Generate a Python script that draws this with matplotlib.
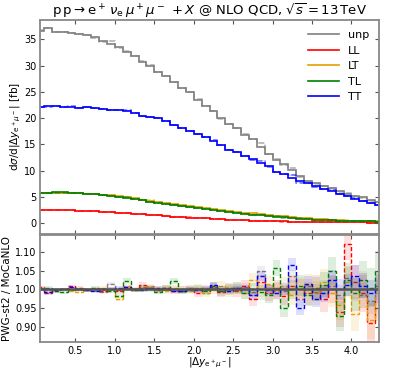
import numpy as np
import matplotlib
matplotlib.use("Agg")
import matplotlib.pyplot as plt

# bins in |dy(e+ mu-)|, width 0.1
edges = np.round(np.arange(0, 4.41, 0.1), 2)

# MoCaNLO distributions [fb]
unp = [36.7, 37.2, 36.5, 36.4, 36.3, 36.0, 35.8, 35.4, 34.8, 34.2,
       33.5, 32.6, 31.9, 30.8, 30.0, 28.9, 28.0, 26.9, 25.8, 24.9,
       23.5, 22.4, 21.3, 20.0, 18.8, 18.1, 16.8, 16.1, 14.5, 13.2,
       12.1, 11.2, 10.2, 9.0, 8.0, 7.6, 7.1, 6.6, 6.1, 5.6,
       5.2, 4.9, 4.4, 4.0]
TT = [22.1, 22.4, 22.3, 22.2, 22.2, 22.0, 22.1, 22.0, 21.8, 21.6,
      21.5, 21.4, 21.0, 20.4, 20.2, 20.0, 19.5, 18.7, 18.2, 17.6,
      17.0, 16.4, 15.6, 14.8, 14.0, 13.5, 12.8, 12.2, 11.5, 10.8,
      9.8, 9.3, 8.6, 8.1, 7.6, 7.1, 6.5, 6.1, 5.6, 5.2,
      4.6, 4.2, 3.8, 3.4]
TL = [5.75, 5.80, 5.85, 5.85, 5.80, 5.72, 5.62, 5.50, 5.36, 5.20,
      5.02, 4.82, 4.55, 4.35, 4.10, 3.85, 3.62, 3.40, 3.20, 3.00,
      2.82, 2.64, 2.45, 2.28, 2.12, 1.96, 1.80, 1.64, 1.50, 1.36,
      1.22, 1.10, 0.98, 0.88, 0.78, 0.69, 0.60, 0.53, 0.47, 0.42,
      0.38, 0.34, 0.31, 0.28]
LT = [5.65, 5.72, 5.78, 5.80, 5.78, 5.72, 5.64, 5.54, 5.42, 5.28,
      5.12, 4.94, 4.70, 4.50, 4.28, 4.04, 3.82, 3.60, 3.40, 3.20,
      3.02, 2.84, 2.66, 2.48, 2.32, 2.16, 2.00, 1.84, 1.70, 1.56,
      1.42, 1.28, 1.15, 1.03, 0.92, 0.82, 0.72, 0.64, 0.57, 0.50,
      0.45, 0.40, 0.36, 0.32]
LL = [2.55, 2.55, 2.52, 2.48, 2.43, 2.38, 2.30, 2.22, 2.13, 2.05,
      1.96, 1.86, 1.76, 1.66, 1.56, 1.46, 1.36, 1.26, 1.16, 1.07,
      0.98, 0.90, 0.82, 0.75, 0.68, 0.61, 0.55, 0.49, 0.44, 0.39,
      0.35, 0.31, 0.28, 0.25, 0.22, 0.20, 0.18, 0.17, 0.15, 0.14,
      0.13, 0.12, 0.11, 0.10]

# PWG-st2 / MoCaNLO
r_unp = [1.003, 0.998, 1.0, 1.002, 0.999, 1.0, 1.001, 0.997, 0.993, 1.015,
         0.998, 1.004, 1.0, 1.006, 1.003, 0.998, 1.004, 1.002, 0.995, 1.0,
         1.003, 1.0, 1.005, 0.996, 1.004, 0.998, 1.006, 0.992, 1.048, 1.0,
         1.004, 0.996, 1.035, 0.974, 1.008, 0.992, 1.003, 1.01, 0.985, 1.03,
         1.0, 0.985, 0.97, 1.01]
r_TT = [1.0, 0.992, 0.998, 1.0, 1.006, 1.0, 0.998, 0.996, 1.0, 1.002,
        1.004, 1.006, 1.0, 0.998, 1.003, 1.004, 1.0, 0.997, 0.996, 1.0,
        0.998, 1.002, 1.012, 1.0, 0.996, 1.005, 1.0, 0.985, 1.035, 0.998,
        0.99, 1.0, 1.065, 0.952, 1.015, 0.975, 0.99, 1.026, 1.0, 1.012,
        1.035, 1.01, 0.99, 1.0]
r_LL = [1.006, 0.99, 0.996, 1.0, 1.008, 1.004, 0.998, 1.0, 0.996, 1.002,
        0.995, 1.004, 1.0, 1.012, 1.005, 0.998, 1.003, 0.996, 1.0, 1.002,
        0.99, 1.0, 1.006, 0.992, 1.004, 0.995, 1.01, 0.975, 1.02, 0.99,
        1.003, 0.983, 1.01, 1.0, 0.99, 1.005, 0.975, 1.0, 0.94, 1.12,
        1.02, 0.99, 0.912, 0.97]
r_LT = [1.002, 0.994, 1.0, 1.0, 0.996, 0.994, 1.0, 1.002, 1.004, 1.0,
        0.974, 1.01, 0.998, 1.0, 1.008, 1.003, 0.996, 1.005, 1.0, 0.997,
        1.004, 0.99, 1.0, 1.01, 0.995, 1.004, 0.99, 1.026, 1.0, 1.015,
        0.995, 1.01, 0.985, 1.005, 1.012, 0.99, 1.02, 0.99, 0.958, 1.02,
        0.935, 1.0, 0.92, 0.99]
r_TL = [1.0, 1.004, 0.995, 0.993, 1.002, 1.0, 0.998, 1.003, 1.0, 0.996,
        0.983, 1.023, 0.998, 1.004, 1.0, 0.994, 1.003, 1.022, 0.996, 1.0,
        1.002, 0.995, 1.008, 0.996, 1.0, 1.005, 0.99, 1.0, 0.992, 0.985,
        1.057, 0.952, 1.0, 1.01, 0.985, 1.0, 1.012, 1.05, 0.93, 1.026,
        0.99, 1.026, 1.005, 1.048]

# relative stat. errors
err_small = [0.004, 0.004, 0.004, 0.004, 0.004, 0.004, 0.005, 0.005, 0.005, 0.005,
             0.006, 0.006, 0.006, 0.007, 0.007, 0.007, 0.008, 0.008, 0.009, 0.009,
             0.010, 0.011, 0.012, 0.013, 0.014, 0.015, 0.016, 0.018, 0.019, 0.021,
             0.022, 0.024, 0.026, 0.028, 0.030, 0.032, 0.035, 0.037, 0.040, 0.043,
             0.046, 0.049, 0.052, 0.055]
err_large = [0.003, 0.003, 0.003, 0.003, 0.003, 0.003, 0.003, 0.003, 0.003, 0.004,
             0.004, 0.004, 0.004, 0.005, 0.005, 0.005, 0.005, 0.006, 0.006, 0.006,
             0.007, 0.007, 0.008, 0.008, 0.009, 0.010, 0.011, 0.012, 0.013, 0.014,
             0.015, 0.016, 0.017, 0.019, 0.020, 0.022, 0.023, 0.025, 0.027, 0.029,
             0.031, 0.033, 0.035, 0.037]

series = [
    ("unp", unp, r_unp, err_large, "#808080"),
    ("LL", LL, r_LL, err_small, "red"),
    ("LT", LT, r_LT, err_small, "#e69f00"),
    ("TL", TL, r_TL, err_small, "green"),
    ("TT", TT, r_TT, err_large, "blue"),
]

plt.rcParams["font.size"] = 7
fig = plt.figure(figsize=(3.99, 3.72), dpi=100)
ax = fig.add_axes([0.1003, 0.372, 0.8497, 0.574])
axr = fig.add_axes([0.1003, 0.080, 0.8497, 0.287])

for name, mc, r, err, c in series:
    mc = np.array(mc)
    pwg = mc * np.array(r)
    e = np.array(err)
    ax.stairs(pwg * (1 + e), edges, baseline=pwg * (1 - e), fill=True, color=c, alpha=0.15, lw=0)
    ax.stairs(pwg, edges, color=c, ls="--", lw=1.1, alpha=0.55)
    ax.stairs(mc, edges, color=c, lw=1.2, label=name)

    rr = np.array(r)
    axr.stairs(rr + e, edges, baseline=rr - e, fill=True, color=c, alpha=0.13, lw=0)
    axr.stairs(rr, edges, color=c, ls=(0, (3, 1.5)), lw=1.0)

axr.axhline(1.0, color="#555555", lw=1.8, zorder=1)

for a in (ax, axr):
    a.set_xlim(0.05, 4.35)
    a.tick_params(direction="in", top=True, right=True, length=3, width=0.8,
                  color="#555555", labelsize=7, pad=2.5)
    for s in a.spines.values():
        s.set_color("#888888")
        s.set_linewidth(1.3)

ax.set_ylim(-2.0, 38.7)
ax.set_yticks(range(0, 36, 5))
ax.set_xticks([0.5, 1.0, 1.5, 2.0, 2.5, 3.0, 3.5, 4.0])
ax.tick_params(labelbottom=False)
axr.set_xticks([0.5, 1.0, 1.5, 2.0, 2.5, 3.0, 3.5, 4.0])
axr.set_ylim(0.86, 1.143)
axr.set_yticks([0.90, 0.95, 1.00, 1.05, 1.10])

ax.set_ylabel(r"d$\sigma$/d$|\Delta y_{\mathrm{e}^+\mu^-}|$ [fb]", fontsize=7.5, labelpad=1)
axr.set_ylabel("PWG-st2 / MoCaNLO", fontsize=7.5, labelpad=2)
axr.set_xlabel(r"$|\Delta y_{\mathrm{e}^+\mu^-}|$", fontsize=7.5, labelpad=0)
ax.set_title(r"$\mathrm{p\,p} \rightarrow \mathrm{e}^+\,\nu_\mathrm{e}\,\mu^+\mu^- \,+ X$ @ NLO QCD, $\sqrt{s} = 13\,$TeV",
             fontsize=9.5, pad=4)

ax.legend(loc="upper right", frameon=False, fontsize=8, handlelength=2.8, labelspacing=0.5)

fig.savefig("out.png", dpi=100)
